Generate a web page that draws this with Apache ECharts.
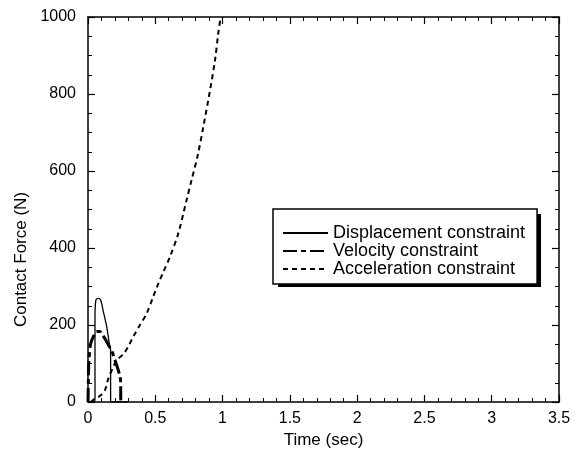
<!DOCTYPE html>
<html>
<head>
<meta charset="utf-8">
<script src="https://cdn.jsdelivr.net/npm/echarts@6/dist/echarts.min.js"></script>
<style>
  html, body { margin: 0; padding: 0; background: #fff; }
  #chart { width: 585px; height: 468px; }
</style>
</head>
<body>
<div id="chart"></div>
<script>
  // values
  let dispTime = [0, 0.05, 0.052, 0.052, 0.059, 0.077, 0.094, 0.114, 0.139, 0.158, 0.168, 0.168, 0.168, 0.3]
  let dispForce = [0, 0, 14, 222, 265, 269, 265, 235, 196, 152, 135, 14, 0, 0]

  let velTime = [0, 0.003, 0.007, 0.02, 0.04, 0.064, 0.089, 0.1, 0.13, 0.158, 0.176, 0.188, 0.238, 0.243, 0.243, 0.245]
  let velForce = [0, 60, 109, 152, 170, 183, 183, 178, 162, 144, 135, 122, 66, 40, 14, 0]

  let accTime = [0.02, 0.05, 0.09, 0.126, 0.151, 0.18, 0.213, 0.262, 0.3, 0.337, 0.386, 0.436, 0.485, 0.523, 0.56, 0.609, 0.671, 0.733, 0.77, 0.815, 0.857, 0.907, 0.944, 0.968, 0.986]
  let accForce = [0, 8, 16, 31, 61, 85, 109, 124, 145, 170, 200, 230, 274, 308, 338, 377, 438, 525, 577, 640, 715, 810, 888, 958, 1000]

  let seriesNames = ['Displacement constraint', 'Velocity constraint', 'Acceleration constraint']

  function pairs(xs, ys) {
    let out = []
    for (let i = 0; i < xs.length; i++) {
      out.push([xs[i], ys[i]])
    }
    return out
  }

  let chart = echarts.init(document.getElementById('chart'))

  let font = '"Liberation Sans", Arial, sans-serif'

  function tick() {
    return { show: true, inside: true, length: 7, lineStyle: { color: '#000', width: 1.2 } }
  }
  function minor(n) {
    return { show: true, splitNumber: n, length: 4, lineStyle: { color: '#000', width: 1 } }
  }
  function axisLine() {
    return { show: true, onZero: false, lineStyle: { color: '#000', width: 1.5 } }
  }
  let plain = function (v) { return String(v) }

  chart.setOption({
    animation: false,
    backgroundColor: '#fff',
    grid: {
      left: 88,
      right: 26,
      top: 17,
      bottom: 66
    },
    // legend drop shadow
    graphic: [{
      type: 'rect',
      z: 3,
      shape: { x: 278, y: 214, width: 263, height: 73 },
      style: { fill: '#000' }
    }],
    legend: {
      orient: 'vertical',
      left: 273,
      top: 209,
      z: 5,
      padding: [15, 12, 6, 9],
      itemGap: 0,
      itemWidth: 45,
      itemHeight: 14,
      backgroundColor: '#fff',
      borderColor: '#000',
      borderWidth: 1.5,
      borderRadius: 0,
      itemStyle: { color: 'transparent', borderWidth: 0 },
      textStyle: {
        fontFamily: font,
        fontSize: 18,
        lineHeight: 17,
        color: '#000'
      },
      data: seriesNames
    },
    xAxis: [
      {
        type: 'value',
        min: 0,
        max: 3.5,
        interval: 0.5,
        name: 'Time (sec)',
        nameLocation: 'middle',
        nameGap: 26,
        nameTextStyle: { fontFamily: font, fontSize: 17, color: '#000' },
        axisLine: axisLine(),
        axisTick: tick(),
        minorTick: minor(5),
        splitLine: { show: false },
        axisLabel: { fontFamily: font, fontSize: 16, color: '#000', margin: 9, formatter: plain }
      },
      {
        type: 'value',
        position: 'top',
        min: 0,
        max: 3.5,
        interval: 0.5,
        axisLine: axisLine(),
        axisTick: tick(),
        minorTick: minor(5),
        splitLine: { show: false },
        axisLabel: { show: false }
      }
    ],
    yAxis: [
      {
        type: 'value',
        position: 'left',
        min: 0,
        max: 1000,
        interval: 200,
        name: 'Contact Force (N)',
        nameLocation: 'middle',
        nameGap: 55,
        nameTextStyle: {
          fontFamily: font,
          fontSize: 17,
          color: '#000',
          padding: [0, 100, 0, 0]
        },
        axisLine: axisLine(),
        axisTick: tick(),
        minorTick: minor(4),
        splitLine: { show: false },
        axisLabel: { fontFamily: font, fontSize: 16, color: '#000', margin: 12, formatter: plain }
      },
      {
        type: 'value',
        position: 'right',
        min: 0,
        max: 1000,
        interval: 200,
        axisLine: axisLine(),
        axisTick: tick(),
        minorTick: minor(4),
        splitLine: { show: false },
        axisLabel: { show: false }
      }
    ],
    series: [
      {
        name: seriesNames[0],
        type: 'line',
        symbol: 'none',
        smooth: 0.3,
        data: pairs(dispTime, dispForce),
        lineStyle: { color: '#000', width: 1.3, type: 'solid' },
        itemStyle: { color: '#000' }
      },
      {
        name: seriesNames[1],
        type: 'line',
        symbol: 'none',
        smooth: 0.3,
        data: pairs(velTime, velForce),
        lineStyle: { color: '#000', width: 3, type: [14, 4, 5, 4] },
        itemStyle: { color: '#000' }
      },
      {
        name: seriesNames[2],
        type: 'line',
        symbol: 'none',
        smooth: 0.3,
        data: pairs(accTime, accForce),
        lineStyle: { color: '#000', width: 2, type: [5, 4] },
        itemStyle: { color: '#000' }
      },
      {
        // keeps the mirrored top/right frame axes alive, draws nothing
        type: 'line',
        xAxisIndex: 1,
        yAxisIndex: 1,
        symbol: 'none',
        silent: true,
        data: []
      }
    ]
  })
</script>
</body>
</html>
